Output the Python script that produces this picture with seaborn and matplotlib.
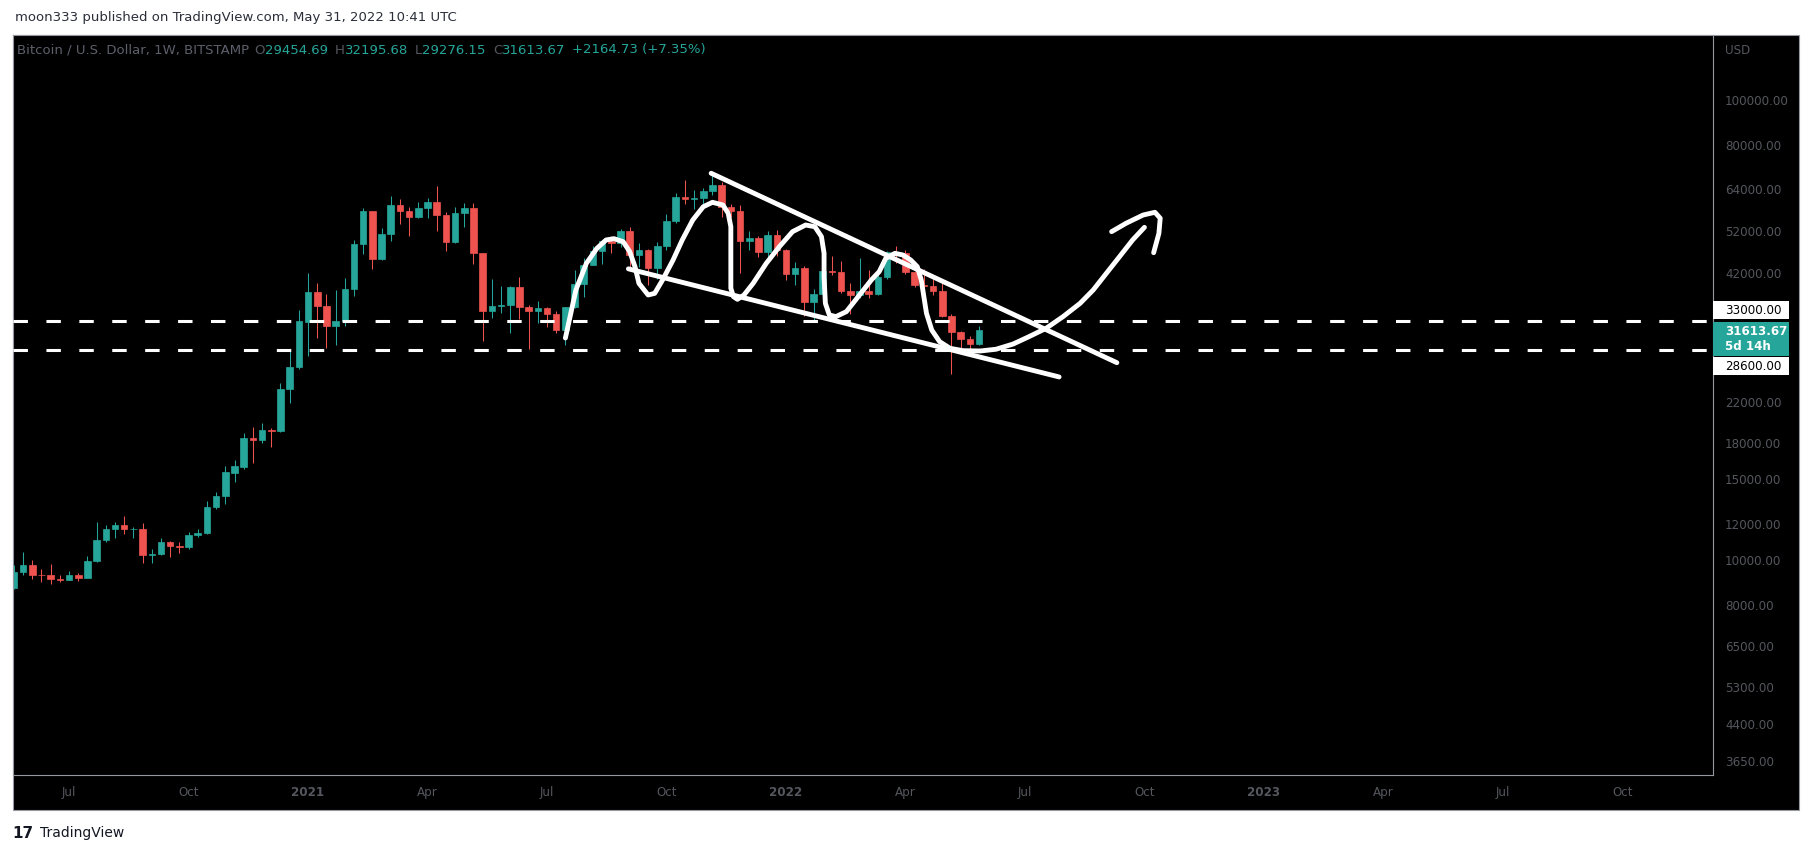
import matplotlib
matplotlib.use("Agg")
import matplotlib.pyplot as plt
import matplotlib.dates as mdates
from matplotlib.patches import Rectangle
from matplotlib.ticker import NullLocator
import numpy as np
import pandas as pd
import seaborn as sns

# weekly BTC / USD candles (Bitstamp)
first_week = "2020-05-25"
opens = [8700, 9440, 9750, 9300, 9280, 9100, 9060, 9290, 9160, 9930,
         11050, 11680, 11900, 11650, 11700, 10230, 10300, 10920, 10750, 10650,
         11340, 11430, 13030, 13760, 15480, 15960, 18400, 18200, 19180, 19050,
         23500, 26250, 32900, 38200, 35700, 32300, 33100, 38900, 48600, 57500,
         45200, 51200, 59000, 57400, 55800, 58200, 60000, 56300, 49100, 56800,
         58300, 46400, 34700, 35700, 35800, 39300, 35500, 34700, 35300, 34300,
         31700, 35400, 39900, 43800, 47000, 49300, 48800, 51800, 46000, 47300,
         43200, 48200, 54700, 61500, 60900, 61300, 63300, 65500, 58600, 57300,
         49400, 50100, 46700, 50800, 47300, 41900, 43100, 36300, 37900, 42400,
         42200, 38400, 37700, 38400, 37800, 41300, 46800, 46400, 42200, 39700,
         39450, 38500, 34000, 31300, 30300, 29454.69]
highs = [9760, 10400, 9990, 9560, 9800, 9280, 9470, 9370, 10180, 12100,
         11900, 12100, 12480, 11820, 12050, 10550, 11170, 11000, 10930, 11480,
         11700, 13420, 14080, 16000, 16480, 18900, 19450, 19900, 19400, 24250,
         28400, 34950, 42000, 40100, 37900, 38600, 41000, 49700, 58300, 57500,
         52600, 61800, 61000, 58400, 60000, 61300, 64900, 57000, 58400, 59600,
         59600, 46600, 40800, 39400, 39500, 41300, 35900, 36600, 35400, 34700,
         35500, 42600, 45300, 48100, 49700, 50500, 52300, 52900, 48800, 47400,
         49100, 56600, 62900, 67000, 63700, 64300, 69000, 66300, 59400, 59100,
         51900, 50600, 51900, 52100, 47500, 44400, 43500, 38900, 42600, 45800,
         44700, 40000, 45400, 42600, 42300, 47000, 48200, 47200, 42400, 42900,
         40800, 40000, 34200, 31400, 30700, 32195.68]
lows = [8640, 9300, 9100, 8950, 8850, 8940, 9050, 9000, 9130, 9900,
        10950, 11150, 11400, 11150, 9870, 9850, 10230, 10150, 10380, 10540,
        11200, 11400, 12900, 13250, 14800, 15800, 16250, 18000, 17600, 19000,
        21900, 25950, 27800, 30400, 28900, 29300, 32300, 37400, 46200, 43000,
        45000, 49300, 53700, 50500, 55300, 55500, 51800, 47000, 48800, 53000,
        43900, 30000, 33600, 34400, 31100, 33400, 28800, 32700, 32100, 31100,
        29300, 35300, 37300, 43700, 44100, 46400, 47900, 42900, 43400, 39600,
        40800, 47100, 54100, 59500, 58000, 59400, 62300, 55600, 55600, 42000,
        47100, 45500, 45500, 45700, 40600, 39600, 34000, 32900, 36300, 41700,
        38000, 34300, 37200, 37200, 37600, 40900, 44200, 41900, 39200, 38600,
        37600, 33700, 25400, 28650, 28000, 29276.15]
closes = [9440, 9750, 9300, 9260, 9100, 9060, 9290, 9160, 9950, 11050,
          11680, 11900, 11650, 11700, 10230, 10300, 10920, 10750, 10650, 11340,
          11440, 13030, 13760, 15560, 16000, 18400, 18200, 19180, 19050, 23500,
          26250, 33140, 38200, 35700, 32300, 33100, 38900, 48600, 57500, 45200,
          51200, 59000, 57400, 55800, 58100, 60000, 56300, 49100, 56800, 58300,
          46400, 34700, 35700, 35800, 39300, 35500, 34700, 35300, 34300, 31700,
          35400, 39900, 43800, 47000, 49300, 48800, 51800, 46000, 47300, 43200,
          48200, 54700, 61500, 60900, 61300, 63300, 65500, 58600, 57300, 49400,
          50100, 46700, 50800, 47300, 41900, 43100, 36300, 37900, 42400, 42200,
          38400, 37700, 38400, 37800, 41300, 46800, 46400, 42200, 39700, 39450,
          38500, 34000, 31300, 30300, 29448.94, 31613.67]

# dashed support / resistance levels
levels = [33000, 28600]

# price scale and time scale
y_ticks = [100000, 80000, 64000, 52000, 42000, 22000, 18000, 15000, 12000,
           10000, 8000, 6500, 5300, 4400, 3650]
x_tick_dates = ["2020-07-06", "2020-10-05", "2021-01-04", "2021-04-05", "2021-07-05",
                "2021-10-04", "2022-01-03", "2022-04-04", "2022-07-04", "2022-10-03",
                "2023-01-02", "2023-04-03", "2023-07-03", "2023-10-02"]
x_tick_labels = ["Jul", "Oct", "2021", "Apr", "Jul", "Oct", "2022", "Apr", "Jul",
                 "Oct", "2023", "Apr", "Jul", "Oct"]

# hand drawn marks (date, price)
wedge_top_dates = ["2021-11-07", "2022-09-12"]
wedge_top_prices = [69300, 26850]
wedge_low_dates = ["2021-09-05", "2022-07-30"]
wedge_low_prices = [42950, 25000]
curve_dates = ["2021-07-19", "2021-07-22", "2021-07-27", "2021-08-04", "2021-08-12",
               "2021-08-19", "2021-08-25", "2021-09-01", "2021-09-06", "2021-09-10",
               "2021-09-13", "2021-09-20", "2021-09-25", "2021-10-01", "2021-10-09",
               "2021-10-16", "2021-10-24", "2021-11-01", "2021-11-08", "2021-11-16",
               "2021-11-20", "2021-11-22", "2021-11-22", "2021-11-22", "2021-11-24",
               "2021-11-27", "2021-12-02", "2021-12-09", "2021-12-19", "2021-12-29",
               "2022-01-08", "2022-01-18", "2022-01-25", "2022-01-30", "2022-02-01",
               "2022-02-01", "2022-02-02", "2022-02-05", "2022-02-10", "2022-02-18",
               "2022-02-27", "2022-03-09", "2022-03-15", "2022-03-20", "2022-03-27",
               "2022-04-02", "2022-04-08", "2022-04-13", "2022-04-16", "2022-04-18",
               "2022-04-20", "2022-04-24", "2022-04-30", "2022-05-08", "2022-05-18",
               "2022-05-31", "2022-06-12", "2022-06-25", "2022-07-07", "2022-07-20",
               "2022-08-02", "2022-08-15", "2022-08-25", "2022-09-04", "2022-09-14",
               "2022-09-24", "2022-10-03"]
curve_prices = [30380, 33240, 38640, 44160, 47590,
                49630, 49950, 49200, 46800, 43420,
                39950, 37680, 37990, 40620, 44890,
                49630, 54840, 58610, 59920, 59120,
                56710, 53030, 44890, 38960, 37370,
                36870, 37680, 39950, 44160, 48000,
                51740, 53490, 53030, 50470, 46420,
                41300, 36140, 34100, 33810, 34670,
                37370, 40620, 42350, 45270, 46420,
                46030, 44890, 43420, 40620, 37370,
                34380, 31620, 29830, 28850, 28510,
                28470, 28720, 29480, 30580, 31880,
                33810, 36140, 38640, 42000, 45640,
                49630, 52870]
arrow_dates = ["2022-09-08", "2022-09-19", "2022-10-02", "2022-10-11", "2022-10-15",
               "2022-10-14", "2022-10-10"]
arrow_prices = [51740, 53950, 56230, 57000, 55330, 51290, 46560]

TEAL = "#26a69a"
RED = "#ef5350"
SCALE_TXT = "#55575e"
BORDER = "#9598a1"

sns.set_theme(style="dark", rc={"axes.facecolor": "black", "figure.facecolor": "white",
                                "lines.scale_dashes": False})
plt.rcParams["font.family"] = ["DejaVu Sans"]

W, H = 1813, 855


def fx(px):
    return px / W


def fy(py):
    return 1 - py / H


fig = plt.figure(figsize=(W / 100, H / 100), dpi=100)

# black chart frame with price scale and time scale
fig.add_artist(Rectangle((fx(12.6), fy(810)), fx(1799) - fx(12.6), fy(35) - fy(810),
                         transform=fig.transFigure, facecolor="black", edgecolor=BORDER,
                         linewidth=0.8, zorder=-5))
ax = fig.add_axes([fx(12.6), fy(775), fx(1713) - fx(12.6), fy(35) - fy(775)])
for sp in ax.spines.values():
    sp.set_color(BORDER)
    sp.set_linewidth(0.8)
ax.grid(False)

df = pd.DataFrame({"week": pd.date_range(first_week, periods=len(opens), freq="7D"),
                   "open": opens, "high": highs, "low": lows, "close": closes})
df["x"] = mdates.date2num(df["week"])
df["up"] = df["close"] >= df["open"]
colors = np.where(df["up"], TEAL, RED)
body_lo = df[["open", "close"]].min(axis=1)
body_h = (df["close"] - df["open"]).abs()

ax.set_yscale("log")
ax.vlines(df["x"], df["low"], df["high"], colors=colors, linewidth=0.75, zorder=2)
ax.bar(df["x"], body_h, bottom=body_lo, width=5, color=colors, edgecolor=colors,
       linewidth=0.5, zorder=2)


def as_num(dates):
    return mdates.date2num(pd.to_datetime(dates))


stroke = dict(color="white", linewidth=3.5, sort=False, estimator=None, legend=False,
              solid_capstyle="round", solid_joinstyle="round", zorder=4)
sns.lineplot(x=as_num(wedge_top_dates), y=wedge_top_prices, ax=ax, **stroke)
sns.lineplot(x=as_num(wedge_low_dates), y=wedge_low_prices, ax=ax, **stroke)
sns.lineplot(x=as_num(curve_dates), y=curve_prices, ax=ax, **stroke)
sns.lineplot(x=as_num(arrow_dates), y=arrow_prices, ax=ax, **stroke)

for lvl in levels:
    ax.axhline(lvl, color="white", linewidth=2.2, dashes=(10.4, 13.3), zorder=5)

ax.set_xlim(mdates.date2num(pd.Timestamp("2020-05-24")),
            mdates.date2num(pd.Timestamp("2023-12-10")))
ax.set_ylim(3409, 138450)

ax.yaxis.tick_right()
ax.yaxis.set_minor_locator(NullLocator())
ax.set_yticks(y_ticks)
ax.set_yticklabels([f"{v:.2f}" for v in y_ticks])
ax.tick_params(axis="y", length=0, pad=8.6, labelcolor=SCALE_TXT, labelsize=8.6)

ax.set_xticks(as_num(x_tick_dates))
ax.set_xticklabels(x_tick_labels)
ax.tick_params(axis="x", length=0, pad=8, labelcolor=SCALE_TXT, labelsize=8.6)
for lab in ax.get_xticklabels():
    if lab.get_text().isdigit():
        lab.set_fontweight("bold")
ax.set_xlabel("")
ax.set_ylabel("")

fig.text(fx(1725), fy(50), "USD", color=SCALE_TXT, fontsize=8.6, va="center")


# price tags on the scale
def price_tag(price, lines, face, text_color, shift_px, top_px, bottom_px, bold=False):
    y_px = ax.transData.transform((ax.get_xlim()[0], price))[1]
    level_from_top = H - y_px + shift_px
    fig.add_artist(Rectangle((fx(1713), fy(level_from_top + bottom_px)), fx(1789) - fx(1713),
                             (top_px + bottom_px) / H, transform=fig.transFigure,
                             facecolor=face, edgecolor="none", zorder=6))
    for i, txt in enumerate(lines):
        fig.text(fx(1725), fy(level_from_top + i * 15), txt, color=text_color, fontsize=8.6,
                 va="center", fontweight="bold" if bold else "normal", zorder=7)


price_tag(levels[0], [f"{levels[0]:.2f}"], "white", "black", -11, 9, 9)
price_tag(closes[-1], [f"{closes[-1]:.2f}", "5d 14h"], TEAL, "white", 1, 9, 25, bold=True)
price_tag(levels[1], [f"{levels[1]:.2f}"], "white", "black", 16, 9, 9)

# legend line in the chart
change = closes[-1] - closes[-2]
pct = change / closes[-2] * 100
pieces = [("O", SCALE_TXT, 4), (f"{opens[-1]:.2f}", TEAL, 0),
          ("H", SCALE_TXT, 5), (f"{highs[-1]:.2f}", TEAL, 0),
          ("L", SCALE_TXT, 5), (f"{lows[-1]:.2f}", TEAL, 0),
          ("C", SCALE_TXT, 5), (f"{closes[-1]:.2f}", TEAL, 0),
          (f"+{change:.2f} (+{pct:.2f}%)", TEAL, 5)]
prev = fig.text(fx(17), fy(50), "Bitcoin / U.S. Dollar, 1W, BITSTAMP", color="#5d606b",
                fontsize=9.5, va="center")
for txt, col, gap in pieces:
    prev = ax.annotate(txt, xy=(1, 0.5), xycoords=prev, xytext=(gap, 0),
                       textcoords="offset points", va="center", ha="left",
                       color=col, fontsize=9.5)

# header and footer
fig.text(fx(15), fy(18), "moon333 published on TradingView.com, May 31, 2022 10:41 UTC",
         color="#2a2e39", fontsize=9.5, va="center")
fig.text(fx(12), fy(833), "17", color="#131722", fontsize=11, fontweight="heavy",
         va="center")
fig.text(fx(40), fy(833), "TradingView", color="#131722", fontsize=10, va="center")

fig.savefig("out.png", dpi=100, facecolor="white")
